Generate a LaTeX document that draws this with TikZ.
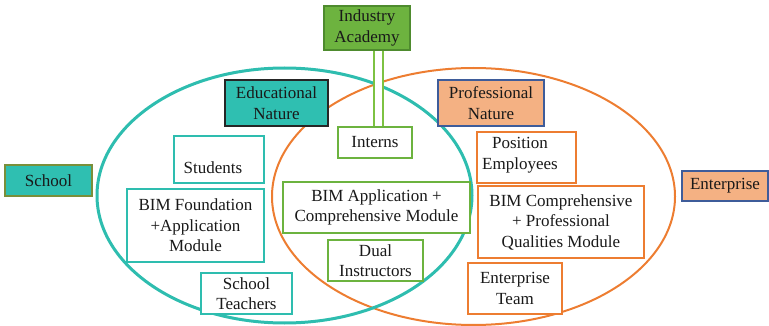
\documentclass[tikz,border=0pt]{standalone}
\usepackage{fontspec}
\setmainfont{Liberation Serif}
\begin{document}
\definecolor{tealfill}{HTML}{2FBFB1}
\definecolor{tealline}{HTML}{2EBDAF}
\definecolor{iafill}{HTML}{6DB33F}
\definecolor{iaborder}{HTML}{4E8B2E}
\definecolor{greenline}{HTML}{6CB33F}
\definecolor{linkgreen}{HTML}{7DC242}
\definecolor{orangeline}{HTML}{ED7D31}
\definecolor{orangefill}{HTML}{F4B183}
\definecolor{blueborder}{HTML}{3E5C9A}
\definecolor{oliveborder}{HTML}{7A8F3A}
\begin{tikzpicture}[x=1pt,y=-1pt,
  every node/.style={font=\fontsize{17}{20.5}\selectfont, text=black!90, align=center, inner sep=0pt},
  box/.style={draw, line width=2pt, rectangle},
  tealbox/.style={box, draw=tealline, fill=white},
  greenbox/.style={box, draw=greenline, fill=white},
  orangebox/.style={box, draw=orangeline, fill=white},
  headbox/.style={box, draw=black!85, fill=tealfill},
  profbox/.style={box, draw=blueborder, fill=orangefill},
  linkpipe/.style={draw=linkgreen, line width=2.5pt, double=white, double distance=6.5pt},
]
\useasboundingbox (0,0) rectangle (769,326);

% the two overlapping domains
\draw[orangeline, line width=2pt] (473.5,196.5) ellipse [x radius=201.5, y radius=128.5];
\draw[tealline, line width=3pt] (284.5,195.5) ellipse [x radius=187.5, y radius=127.5];

% side labels
\node[box, draw=oliveborder, fill=tealfill, minimum width=87, minimum height=31] (school) at (48.5,180.5) {School};
\node[box, draw=blueborder, fill=orangefill, minimum width=86, minimum height=30] (enterprise) at (725,186) {Enterprise};

% industry academy and its link to the interns
\node[box, draw=iaborder, fill=iafill, minimum width=86, minimum height=44] (industry) at (367,28) {Industry\\Academy};
\node[greenbox, minimum width=74, minimum height=31] (interns) at (375,142.5) {Interns};
\coordinate (pipe) at (378.5,0);
\draw[linkpipe] (industry.south -| pipe) -- (interns.north -| pipe);

% nature headings
\node[headbox, minimum width=103, minimum height=46] (edu) at (276.5,103) {Educational\\Nature};
\node[profbox, minimum width=106, minimum height=46] (prof) at (491,103) {Professional\\Nature};

% school side
\node[tealbox, minimum width=90, minimum height=47] (students) at (219,159.5) {};
\node (studentsT) at (213,168) {Students};
\node[tealbox, minimum width=137, minimum height=73] (bimfound) at (195.5,225.5) {BIM Foundation\\+Application\\Module};
\node[tealbox, minimum width=91, minimum height=41] (teachers) at (246.5,293.5) {School\\Teachers};

% shared part
\node[greenbox, minimum width=187, minimum height=51] (bimapp) at (376.5,207.5) {BIM Application +\\Comprehensive Module};
\node[greenbox, minimum width=95, minimum height=41] (dual) at (375.5,260.5) {Dual\\Instructors};

% enterprise side
\node[orangebox, minimum width=99, minimum height=51] (position) at (526.5,157.5) {};
\node (positionT) at (520,155) {Position\\Employees};
\node[orangebox, minimum width=166, minimum height=72] (bimcomp) at (561,222) {BIM Comprehensive\\+ Professional\\Qualities Module};
\node[orangebox, minimum width=94, minimum height=51] (entteam) at (515,288.5) {Enterprise\\Team};
\end{tikzpicture}
\end{document}
